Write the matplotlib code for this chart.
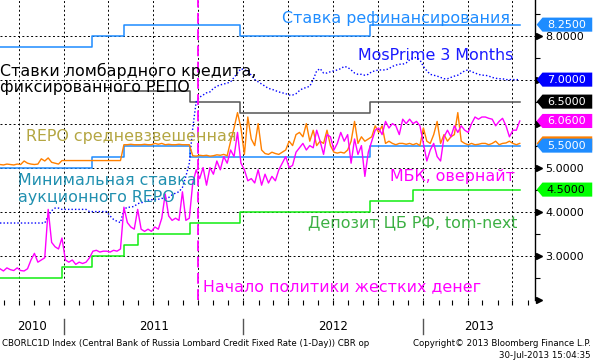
import pandas as pd
import matplotlib
matplotlib.use('Agg')
import matplotlib.pyplot as plt
import matplotlib.dates as mdates
from matplotlib.transforms import blended_transform_factory
from matplotlib.patches import Polygon

plt.rcParams['font.family'] = ['DejaVu Sans']

# недельные точки
dates = pd.date_range('2010-08-24', periods=152, freq='7D')

# МБК, овернайт
mbk = [2.70, 2.65, 2.72, 2.68, 2.66, 2.72, 2.66, 2.65, 2.70, 2.90,
       3.05, 2.85, 2.90, 2.95, 4.05, 3.30, 3.20, 3.15, 3.40, 2.90,
       2.85, 2.90, 2.80, 2.85, 2.82, 2.85, 2.95, 3.10, 3.12, 3.08,
       3.10, 3.10, 3.08, 3.12, 3.10, 3.15, 4.10, 3.75, 3.65, 3.60,
       4.05, 3.60, 3.55, 3.60, 3.55, 3.65, 3.60, 3.85, 4.40, 3.90,
       3.80, 3.85, 3.80, 4.45, 3.80, 3.85, 4.65, 4.95, 4.75, 5.00,
       4.60, 5.00, 4.85, 5.15, 4.95, 5.25, 5.10, 5.40, 5.25, 5.80,
       5.10, 4.95, 4.70, 4.75, 4.65, 4.95, 4.60, 4.85, 4.65, 4.80,
       4.70, 4.95, 5.10, 5.25, 5.00, 5.05, 5.35, 5.45, 5.55, 5.40,
       5.50, 5.45, 5.85, 5.60, 5.30, 5.75, 5.70, 5.40, 5.55, 5.80,
       5.60, 5.75, 5.10, 5.65, 5.30, 5.50, 4.80, 5.35, 5.60, 5.85,
       5.90, 5.75, 6.05, 5.90, 6.00, 5.95, 5.75, 6.10, 6.00, 6.10,
       6.00, 6.05, 5.95, 5.55, 5.15, 5.40, 5.55, 5.25, 5.15, 5.70,
       5.85, 5.70, 5.95, 5.80, 5.95, 5.85, 5.80, 6.00, 6.15, 6.10,
       6.15, 6.15, 6.12, 6.10, 5.95, 6.05, 6.12, 5.95, 5.70, 5.85,
       5.85, 6.06]

# REPO средневзвешенная
repo_avg = [5.07, 5.06, 5.08, 5.07, 5.06, 5.08, 5.07, 5.15, 5.10, 5.08,
            5.07, 5.08, 5.20, 5.15, 5.22, 5.12, 5.10, 5.08, 5.16, 5.16,
            5.16, 5.16, 5.16, 5.16, 5.16, 5.16, 5.16, 5.16, 5.16, 5.16,
            5.16, 5.16, 5.16, 5.16, 5.16, 5.16, 5.52, 5.52, 5.53, 5.52,
            5.52, 5.52, 5.53, 5.52, 5.52, 5.55, 5.53, 5.55, 5.52, 5.53,
            5.52, 5.52, 5.53, 5.52, 5.52, 5.52, 5.27, 5.26, 5.28, 5.27,
            5.28, 5.26, 5.27, 5.29, 5.28, 5.30, 5.27, 5.60, 5.90, 6.25,
            5.90, 5.30, 6.15, 5.65, 5.50, 6.00, 5.40, 5.32, 5.30, 5.35,
            5.32, 5.30, 5.35, 5.40, 5.60, 5.50, 5.75, 5.80, 5.70, 6.00,
            5.60, 5.85, 5.50, 5.60, 5.55, 5.85, 5.50, 5.35, 5.33, 5.35,
            5.33, 5.40, 5.60, 6.05, 5.55, 5.70, 5.60, 5.65, 5.70, 5.95,
            5.80, 5.95, 5.55, 5.60, 5.55, 5.52, 5.55, 5.55, 5.53, 5.55,
            5.52, 5.55, 5.50, 5.90, 5.60, 5.55, 5.75, 6.05, 5.55, 5.75,
            5.60, 5.70, 5.75, 6.25, 5.60, 5.55, 5.52, 5.55, 5.52, 5.53,
            5.55, 5.55, 5.52, 5.55, 5.60, 5.52, 5.55, 5.56, 5.60, 5.55,
            5.52, 5.55]

# MosPrime 3M
mosprime = [3.74, 3.74, 3.74, 3.74, 3.74, 3.74, 3.74, 3.74, 3.74, 3.74,
            3.74, 3.74, 3.74, 3.74, 3.90, 4.02, 4.08, 4.08, 4.05, 4.05,
            4.05, 4.05, 4.05, 4.05, 4.05, 4.05, 4.00, 4.00, 4.00, 4.00,
            4.00, 4.00, 3.90, 3.82, 3.78, 3.75, 4.05, 4.10, 4.10, 4.12,
            4.18, 4.20, 4.22, 4.26, 4.27, 4.27, 4.28, 4.30, 4.30, 4.32,
            4.38, 4.42, 4.45, 4.55, 4.80, 5.10, 5.90, 6.50, 6.60, 6.65,
            6.70, 6.72, 6.80, 6.85, 6.88, 6.90, 6.92, 6.95, 7.05, 7.15,
            7.25, 7.22, 7.20, 7.10, 7.00, 6.95, 6.90, 6.85, 6.80, 6.78,
            6.75, 6.72, 6.70, 6.68, 6.65, 6.65, 6.68, 6.75, 6.80, 6.82,
            6.85, 7.00, 7.20, 7.25, 7.15, 7.15, 7.18, 7.20, 7.22, 7.25,
            7.30, 7.28, 7.22, 7.15, 7.12, 7.12, 7.10, 7.12, 7.18, 7.20,
            7.22, 7.22, 7.22, 7.25, 7.30, 7.33, 7.35, 7.35, 7.38, 7.45,
            7.50, 7.50, 7.45, 7.30, 7.20, 7.12, 7.10, 7.08, 7.05, 7.02,
            7.02, 7.05, 7.08, 7.10, 7.15, 7.20, 7.22, 7.18, 7.15, 7.12,
            7.10, 7.10, 7.08, 7.05, 7.03, 7.02, 7.02, 7.00, 7.00, 7.00,
            7.00, 7.00]

# ступенчатые ставки ЦБ
refi_dates = ['2010-08-24', '2011-02-28', '2011-05-03', '2011-12-26', '2012-09-14']
refi_vals = [7.75, 8.0, 8.25, 8.0, 8.25]
lombard_dates = ['2011-04-14', '2011-09-15', '2011-12-26', '2012-09-14']
lombard_vals = [6.75, 6.5, 6.25, 6.5]
min_repo_dates = ['2010-08-24', '2011-02-28', '2011-05-03', '2011-09-15', '2012-09-14']
min_repo_vals = [5.0, 5.25, 5.5, 5.25, 5.5]
deposit_dates = ['2010-08-24', '2010-12-28', '2011-02-28', '2011-05-03', '2011-05-31',
                 '2011-09-15', '2011-12-26', '2012-09-14', '2012-12-10']
deposit_vals = [2.5, 2.75, 3.0, 3.25, 3.5, 3.75, 4.0, 4.25, 4.5]

tight_money_start = '2011-10-01'
years = [2010, 2011, 2012, 2013]

DODGER = '#1e8cff'
MAGENTA = '#ff00ff'
ORANGE = '#ff8000'
GREEN = '#11ee11'

fig = plt.figure(figsize=(5.93, 3.63), dpi=100)
ax = fig.add_axes([0, 63 / 363, 535 / 593, 300 / 363])

x0, x1 = pd.Timestamp('2010-08-24'), pd.Timestamp('2013-08-16')
ax.set_xlim(x0, x1)
ax.set_ylim(1.99, 8.81)

end_date = dates[-1]


def step_line(d, v, **kw):
    xs = list(pd.to_datetime(d)) + [end_date]
    ys = list(v) + [v[-1]]
    ax.step(xs, ys, where='post', **kw)


step_line(deposit_dates, deposit_vals, color=GREEN, lw=1.1, zorder=3)
step_line(min_repo_dates, min_repo_vals, color=DODGER, lw=1.1, zorder=3)
step_line(refi_dates, refi_vals, color=DODGER, lw=1.1, zorder=3)
step_line(lombard_dates, lombard_vals, color='#555555', lw=1.1, zorder=3)
ax.plot(dates, mosprime, color='#0000ff', lw=1.0, linestyle=(0, (1, 1.5)), zorder=3)
ax.plot(dates, repo_avg, color=ORANGE, lw=1.0, zorder=4)
ax.plot(dates, mbk, color=MAGENTA, lw=1.0, zorder=4)

ax.axvline(pd.Timestamp(tight_money_start), color=MAGENTA, lw=1.3,
           linestyle=(0, (6, 3)), zorder=5)

# оси
for s in ['left', 'top', 'bottom']:
    ax.spines[s].set_visible(False)
ax.spines['right'].set_linewidth(1.0)

ax.xaxis.set_major_locator(mdates.MonthLocator(bymonth=[1, 4, 7, 10]))
ax.xaxis.set_minor_locator(mdates.MonthLocator())
ax.tick_params(axis='x', which='both', direction='out', length=3.5, width=0.8,
               labelbottom=False)

ax.yaxis.tick_right()
yt = [2, 3, 4, 5, 6, 7, 8]
# подписи 6 и 7 закрыты плашками последних значений
shown = [3, 4, 5, 8]
ax.set_yticks(yt)
ax.set_yticklabels(['%.4f' % v if v in shown else '' for v in yt], fontsize=8)
ax.set_yticks([2.5, 3.5, 4.5, 5.5, 6.5, 7.5, 8.5], minor=True)
ax.tick_params(axis='y', which='major', length=0, pad=7.5)
ax.tick_params(axis='y', which='minor', length=3.5, width=0.8, direction='out')

ax.grid(True, which='major', color='black', linestyle=(0, (2, 2.5)), lw=0.7)
ax.set_axisbelow(True)

ty = blended_transform_factory(ax.transAxes, ax.transData)
ax.plot([1.007] * len(yt), yt, linestyle='none', marker='>', markersize=5,
        color='black', transform=ty, clip_on=False)

# годы внизу
tx = blended_transform_factory(ax.transData, ax.transAxes)
for y in years:
    a = max(x0, pd.Timestamp(f'{y}-01-01'))
    b = min(x1, pd.Timestamp(f'{y + 1}-01-01'))
    ax.text(a + (b - a) / 2, -0.09, str(y), transform=tx, ha='center', va='center',
            fontsize=8.5)
    if y > years[0]:
        ax.plot([a, a], [-0.063, -0.113], transform=tx, color='#555555', lw=1,
                clip_on=False)

# метки последних значений справа
h = 0.16


def value_box(v, face, tcolor='white', text=True, z=6):
    pts = [(1.003, v), (1.014, v + h), (1.107, v + h), (1.107, v - h), (1.014, v - h)]
    ax.add_patch(Polygon(pts, closed=True, facecolor=face, edgecolor='none',
                         transform=ty, clip_on=False, zorder=z))
    if text:
        ax.text(1.022, v, '%.4f' % v, transform=ty, ha='left', va='center',
                fontsize=8, color=tcolor, zorder=z + 1, clip_on=False)


value_box(refi_vals[-1], DODGER)
value_box(mosprime[-1], '#0000ff')
value_box(lombard_vals[-1], 'black')
value_box(mbk[-1], MAGENTA)
value_box(repo_avg[-1], ORANGE, text=False, z=6)
value_box(min_repo_vals[-1], DODGER, z=8)
value_box(deposit_vals[-1], '#00ff00', tcolor='black')


# подписи на графике
def note(px, py, s, color, size=11.4, **kw):
    ax.text(px / 535, 1 - py / 300, s, transform=ax.transAxes, color=color,
            fontsize=size, ha='left', va='center', zorder=7, **kw)


note(282, 19, 'Ставка рефинансирования', DODGER)
note(358, 55, 'MosPrime 3 Months', '#1a1aff')
note(0, 79, 'Ставки ломбардного кредита,\nфиксированного РЕПО', 'black',
     linespacing=1.1)
note(26, 137, 'REPO средневзвешенная', '#b4a642')
note(18, 189, 'Минимальная ставка\nаукционного REPO', '#2090b0', linespacing=1.1)
note(390, 177, 'МБК, овернайт', MAGENTA)
note(308, 223, 'Депозит ЦБ РФ, tom-next', '#3cb043')
note(203, 287, 'Начало политики жестких денег', MAGENTA)

fig.text(2 / 593, 1 - 343 / 363,
         'CBORLC1D Index (Central Bank of Russia Lombard Credit Fixed Rate (1-Day)) CBR op',
         fontsize=6.2, ha='left', va='center')
fig.text(591 / 593, 1 - 344 / 363, 'Copyright© 2013 Bloomberg Finance L.P.',
         fontsize=6.2, ha='right', va='center')
fig.text(591 / 593, 1 - 356 / 363, '30-Jul-2013 15:04:35',
         fontsize=6.2, ha='right', va='center')

fig.savefig('out.png', dpi=100)
